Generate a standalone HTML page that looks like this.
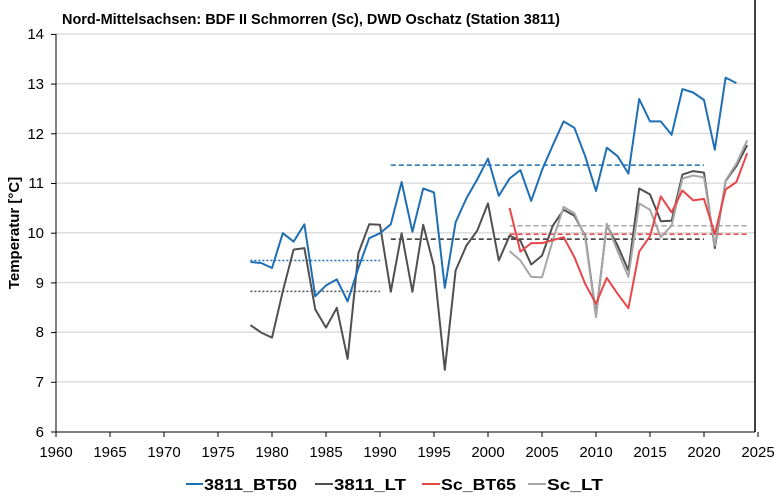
<!DOCTYPE html>
<html><head><meta charset="utf-8"><style>body{margin:0;background:#fff}svg{display:block}text{font-family:"Liberation Sans",Arial,sans-serif}</style></head><body>
<svg width="780" height="504" viewBox="0 0 780 504" xmlns="http://www.w3.org/2000/svg">
<rect width="780" height="504" fill="#fff"/>
<text x="62" y="24" font-size="15" font-weight="bold" fill="#000" textLength="498" lengthAdjust="spacingAndGlyphs">Nord-Mittelsachsen:  BDF II Schmorren (Sc), DWD Oschatz (Station 3811)</text>
<g stroke="#d9d9d9" stroke-width="1.3">
<line x1="56" x2="755" y1="34" y2="34"/><line x1="56" x2="755" y1="83.7" y2="83.7"/><line x1="56" x2="755" y1="133.4" y2="133.4"/><line x1="56" x2="755" y1="183.1" y2="183.1"/><line x1="56" x2="755" y1="232.8" y2="232.8"/><line x1="56" x2="755" y1="282.5" y2="282.5"/><line x1="56" x2="755" y1="332.2" y2="332.2"/><line x1="56" x2="755" y1="381.9" y2="381.9"/>
</g>
<line x1="755" x2="755" y1="0" y2="432" stroke="#000" stroke-width="1.5"/>
<line x1="56" x2="56" y1="34" y2="432" stroke="#000" stroke-width="1"/>
<line x1="56" x2="755" y1="432" y2="432" stroke="#000" stroke-width="1"/>
<g stroke="#000" stroke-width="1" id="ticks"></g>
<g font-size="15" fill="#000" text-anchor="end">
<text x="44" y="39">14</text><text x="44" y="89">13</text><text x="44" y="139">12</text><text x="44" y="188">11</text><text x="44" y="238">10</text><text x="44" y="288">9</text><text x="44" y="337">8</text><text x="44" y="387">7</text><text x="44" y="437">6</text>
</g>
<g font-size="15" fill="#000" text-anchor="middle" id="xl"></g>
<text transform="translate(19,233) rotate(-90)" font-size="15" font-weight="bold" text-anchor="middle">Temperatur [°C]</text>
<g id="series" fill="none" stroke-width="2" stroke-linejoin="round"></g>
<g font-size="16" font-weight="bold">
<line x1="186" x2="203" y1="484" y2="484" stroke="#1f6fb5" stroke-width="2"/><text x="204" y="490" textLength="93" lengthAdjust="spacingAndGlyphs">3811_BT50</text>
<line x1="315" x2="333" y1="484" y2="484" stroke="#505050" stroke-width="2"/><text x="334" y="490" textLength="72" lengthAdjust="spacingAndGlyphs">3811_LT</text>
<line x1="422" x2="440" y1="484" y2="484" stroke="#e8474a" stroke-width="2"/><text x="441" y="490" textLength="75" lengthAdjust="spacingAndGlyphs">Sc_BT65</text>
<line x1="528" x2="546" y1="484" y2="484" stroke="#a6a6a6" stroke-width="2"/><text x="547" y="490" textLength="56" lengthAdjust="spacingAndGlyphs">Sc_LT</text>
</g>
<script>
const X=y=>56+(y-1960)*10.8, Y=v=>432-(v-6)*49.7, NS="http://www.w3.org/2000/svg";
const t=document.getElementById('ticks'), xl=document.getElementById('xl');
for(let y=1960;y<=2025;y+=5){const l=document.createElementNS(NS,'line');l.setAttribute('x1',X(y));l.setAttribute('x2',X(y));l.setAttribute('y1',432);l.setAttribute('y2',437);t.appendChild(l);
const tx=document.createElementNS(NS,'text');tx.setAttribute('x',X(y));tx.setAttribute('y',457);tx.textContent=y;xl.appendChild(tx);}
for(let v=6;v<=14;v++){const l=document.createElementNS(NS,'line');l.setAttribute('x1',51);l.setAttribute('x2',56);l.setAttribute('y1',Y(v));l.setAttribute('y2',Y(v));t.appendChild(l);}
const s=document.getElementById('series');
function line(y0,vals,col,w,dash){const p=vals.map((v,i)=>X(y0+i).toFixed(1)+','+Y(v).toFixed(1)).join(' ');const e=document.createElementNS(NS,'polyline');e.setAttribute('points',p);e.setAttribute('stroke',col);e.setAttribute('stroke-width',w);if(dash)e.setAttribute('stroke-dasharray',dash);s.appendChild(e);}
function h(a,b,v,col,dash){const e=document.createElementNS(NS,'line');e.setAttribute('x1',X(a));e.setAttribute('x2',X(b));e.setAttribute('y1',Y(v));e.setAttribute('y2',Y(v));e.setAttribute('stroke',col);e.setAttribute('stroke-width',1.5);e.setAttribute('stroke-dasharray',dash);s.appendChild(e);}
h(1978,1990,9.45,'#1f6fb5','2,2');h(1978,1990,8.83,'#505050','2,2');
h(1991,2020,11.37,'#1f6fb5','5,3');h(1991,2020,9.88,'#303030','5,3');
h(2002,2024,10.15,'#a6a6a6','5,3');h(2002,2024,9.98,'#e8474a','5,3');
line(1978,[8.15,8.0,7.9,8.83,9.67,9.7,8.47,8.1,8.5,7.47,9.6,10.18,10.17,8.82,10.0,8.82,10.17,9.33,7.25,9.25,9.75,10.05,10.6,9.45,9.95,9.85,9.37,9.55,10.15,10.47,10.35,9.95,8.35,10.17,9.75,9.25,10.9,10.78,10.24,10.25,11.18,11.25,11.22,9.7,11.05,11.35,11.77],'#505050',2);
line(2002,[9.64,9.45,9.12,9.11,9.86,10.53,10.4,9.92,8.31,10.19,9.64,9.12,10.6,10.47,9.92,10.15,11.1,11.16,11.12,9.75,11.06,11.4,11.87],'#a6a6a6',2);
line(2002,[10.51,9.63,9.8,9.8,9.86,9.92,9.52,8.98,8.58,9.1,8.78,8.49,9.63,9.94,10.74,10.42,10.86,10.66,10.69,9.98,10.88,11.03,11.61],'#e8474a',2);
line(1978,[9.42,9.4,9.3,10.0,9.83,10.18,8.73,8.95,9.07,8.63,9.3,9.9,10.0,10.18,11.03,10.03,10.9,10.82,8.9,10.22,10.7,11.08,11.5,10.75,11.1,11.27,10.65,11.27,11.77,12.25,12.12,11.55,10.85,11.72,11.55,11.2,12.7,12.25,12.25,11.98,12.9,12.83,12.68,11.68,13.13,13.02],'#1f6fb5',2);
</script>
</svg>
</body></html>
